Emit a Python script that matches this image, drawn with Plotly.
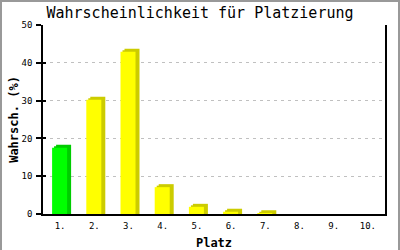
import plotly.graph_objects as go

places = ["1.", "2.", "3.", "4.", "5.", "6.", "7.", "8.", "9.", "10."]
probabilities = [17.5, 30.2, 42.9, 7.1, 1.9, 0.6, 0.2, 0, 0, 0]
front_colors = ["#00ff00"] + ["#ffff00"] * 9
side_colors = ["#00cc00"] + ["#cccc00"] * 9
y_ticks = [0, 10, 20, 30, 40, 50]

# layout in pixels
W, H = 400, 250
ML, MR, MT, MB = 43, 15, 25, 36
pw, ph = W - ML - MR, H - MT - MB
ymax = 50
px_per_unit_y = ph / ymax
px_per_cat = pw / len(places)

depth_x = 4 / px_per_cat
depth_y = 3 / px_per_unit_y
bar_w = 15 / px_per_cat
bar_off = -8 / px_per_cat

xs = list(range(len(places)))
fig = go.Figure()
for frac in (1.0, 0.5):
    fig.add_trace(go.Bar(
        x=xs, y=[v + depth_y * frac if v > 0 else 0 for v in probabilities],
        width=bar_w, offset=bar_off + depth_x * frac,
        marker=dict(color=side_colors, line=dict(width=0)),
        hoverinfo="skip", showlegend=False))
fig.add_trace(go.Bar(
    x=xs, y=probabilities, width=bar_w, offset=bar_off,
    marker=dict(color=front_colors, line=dict(width=0)),
    showlegend=False))
# invisible helper trace so the inner tick axis is drawn
fig.add_trace(go.Scatter(x=[xs[0]], y=[0], yaxis="y2", mode="markers",
                         marker=dict(opacity=0), hoverinfo="skip", showlegend=False))

mono = "DejaVu Sans Mono"
fig.update_layout(
    width=W, height=H, barmode="overlay",
    margin=dict(l=ML, r=MR, t=MT, b=MB, pad=0),
    paper_bgcolor="white", plot_bgcolor="white",
    title=dict(text="Wahrscheinlichkeit für Platzierung", x=0.5, xref="container",
               xanchor="center", y=1 - 13 / H, yref="container", yanchor="middle",
               font=dict(family=mono, size=15, color="black")),
    xaxis=dict(range=[-0.5, len(places) - 0.5], tickvals=xs, ticktext=places,
               showgrid=False, zeroline=False, showline=True, linecolor="black",
               linewidth=1.5, ticks="", ticklabelstandoff=2, automargin=False,
               tickfont=dict(family=mono, size=9, color="black"),
               title=dict(text="<b>Platz</b>", standoff=10,
                          font=dict(family=mono, size=12, color="black"))),
    yaxis=dict(range=[0, ymax], tickvals=y_ticks, showgrid=True, gridcolor="#c0c0c0",
               griddash="3px,4px", gridwidth=1, zeroline=False, showline=True,
               mirror=True, linecolor="black", linewidth=1.5, ticks="outside",
               ticklen=5, tickwidth=1.5, tickcolor="black", ticklabelstandoff=2,
               automargin=False,
               tickfont=dict(family=mono, size=9, color="black"),
               title=dict(text="<b>Wahrsch. (%)</b>", standoff=0,
                          font=dict(family=mono, size=12, color="black"))),
    yaxis2=dict(range=[0, ymax], tickvals=y_ticks, overlaying="y", side="left",
                showgrid=False, zeroline=False, showline=False, ticks="inside",
                ticklen=3, tickwidth=1.5, tickcolor="black", showticklabels=False,
                automargin=False),
    shapes=[dict(type="rect", xref="paper", yref="paper",
                 x0=(1 - ML) / pw, x1=(W - 1 - ML) / pw,
                 y0=(MB - H + 1) / ph, y1=(ph + MT - 1) / ph,
                 line=dict(color="#999999", width=2), layer="below")],
)
fig.write_html("out.html")
